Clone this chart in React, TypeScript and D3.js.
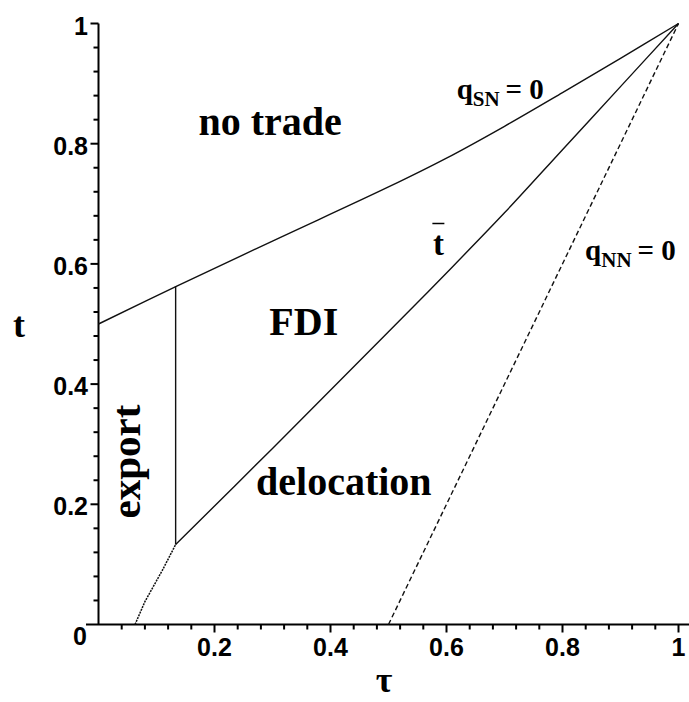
import React from "react";
import * as d3 from "d3";

// curve qSN = 0 (upper boundary of no trade)
const qsnTau = [0, 0.135, 0.3, 0.5, 0.6, 0.7, 0.8, 0.9, 1];
const qsnT = [0.5, 0.563, 0.638, 0.728, 0.776, 0.829, 0.885, 0.942, 1];

// t-bar line above the kink
const tbarTau = [0.133, 0.3, 0.5, 0.6, 0.7, 0.8, 0.9, 1];
const tbarT = [0.133, 0.293, 0.487, 0.585, 0.685, 0.79, 0.895, 1];

// lower part below the kink
const lowTau = [0.063, 0.08, 0.11, 0.133];
const lowT = [0, 0.038, 0.09, 0.133];

// dashed qNN = 0
const qnnTau = [0.5, 0.75, 1];
const qnnT = [0, 0.5, 1];

// export / FDI boundary
const vertTau = [0.133, 0.133];
const vertT = [0.133, 0.563];

const majorTicks = [0.2, 0.4, 0.6, 0.8, 1];
const majorLabels = ["0.2", "0.4", "0.6", "0.8", "1"];

const W = 689;
const H = 702;

const x = d3.scaleLinear().domain([0, 1]).range([98.5, 678.5]);
const y = d3.scaleLinear().domain([0, 1]).range([624.5, 23.5]);

const zip = (a: number[], b: number[]) => a.map((v, i) => [v, b[i]] as [number, number]);

const line = d3
  .line<[number, number]>()
  .x((d) => x(d[0]))
  .y((d) => y(d[1]))
  .curve(d3.curveCatmullRom.alpha(0.5));

const straight = d3
  .line<[number, number]>()
  .x((d) => x(d[0]))
  .y((d) => y(d[1]));

export default function App() {
  const minor = d3.range(0, 1.0001, 0.04).filter((v) => Math.abs((v * 5) % 1) > 0.01 && Math.abs((v * 5) % 1) < 0.99);
  const tickFont = { fontFamily: "'Liberation Sans', Arial, sans-serif", fontWeight: 700, fontSize: 25 };
  const serif = { fontFamily: "'Liberation Serif', 'Times New Roman', serif", fontWeight: 700 };

  return (
    <svg width={W} height={H} style={{ position: "absolute", left: 0, top: 0, background: "#fff" }}>
      {/* axes */}
      <line x1={86} x2={W} y1={y(0)} y2={y(0)} stroke="#000" strokeWidth={2} />
      <line x1={x(0)} x2={x(0)} y1={y(1)} y2={y(0)} stroke="#000" strokeWidth={2} />

      {majorTicks.map((v) => (
        <g key={"mx" + v}>
          <line x1={x(v)} x2={x(v)} y1={y(0)} y2={y(0) + 8} stroke="#000" strokeWidth={2} />
          <line x1={x(0) - 8} x2={x(0)} y1={y(v)} y2={y(v)} stroke="#000" strokeWidth={2} />
        </g>
      ))}
      {minor.map((v) => (
        <g key={"mn" + v}>
          <line x1={x(v)} x2={x(v)} y1={y(0)} y2={y(0) + 5} stroke="#000" strokeWidth={2} />
          <line x1={x(0) - 5} x2={x(0)} y1={y(v)} y2={y(v)} stroke="#000" strokeWidth={2} />
        </g>
      ))}

      {majorTicks.map((v, i) => (
        <text key={"lx" + v} x={x(v)} y={656} textAnchor="middle" style={tickFont}>
          {majorLabels[i]}
        </text>
      ))}
      {majorTicks.map((v, i) => (
        <text key={"ly" + v} x={88} y={y(v) + 11} textAnchor="end" style={tickFont}>
          {majorLabels[i]}
        </text>
      ))}
      <text x={80} y={645} textAnchor="middle" style={tickFont}>
        0
      </text>

      {/* axis titles */}
      <text x={19} y={337} textAnchor="middle" style={{ ...serif, fontSize: 36 }}>
        t
      </text>
      <text x={384} y={692} textAnchor="middle" style={{ ...serif, fontSize: 36 }}>
        τ
      </text>

      {/* curves */}
      <path d={line(zip(qsnTau, qsnT)) || ""} fill="none" stroke="#111" strokeWidth={1.4} />
      <path d={line(zip(tbarTau, tbarT)) || ""} fill="none" stroke="#111" strokeWidth={1.4} />
      <path d={straight(zip(lowTau, lowT)) || ""} fill="none" stroke="#111" strokeWidth={1.5} strokeDasharray="2 1" />
      <path d={straight(zip(qnnTau, qnnT)) || ""} fill="none" stroke="#111" strokeWidth={1.4} strokeDasharray="5 3" />
      <path d={straight(zip(vertTau, vertT)) || ""} fill="none" stroke="#111" strokeWidth={1.4} />

      {/* region labels */}
      <text x={x(0.296)} y={y(0.8145)} textAnchor="middle" style={{ ...serif, fontSize: 40 }}>
        no trade
      </text>
      <text x={x(0.354)} y={y(0.482)} textAnchor="middle" style={{ ...serif, fontSize: 40 }}>
        FDI
      </text>
      <text x={x(0.423)} y={y(0.2155)} textAnchor="middle" style={{ ...serif, fontSize: 40 }}>
        delocation
      </text>
      <text
        transform={`translate(${x(0.0716)},${y(0.271)}) rotate(-90)`}
        textAnchor="middle"
        style={{ ...serif, fontSize: 41 }}
      >
        export
      </text>

      {/* curve labels */}
      <text x={x(0.6176)} y={y(0.874)} style={{ ...serif, fontSize: 29 }}>
        q
        <tspan fontSize={21} dy={7}>SN</tspan>
        <tspan dy={-7}>{"\u2009= 0"}</tspan>
      </text>
      <text x={x(0.839)} y={y(0.6065)} style={{ ...serif, fontSize: 29 }}>
        q
        <tspan fontSize={21} dy={7}>NN</tspan>
        <tspan dy={-7}>{"\u2009= 0"}</tspan>
      </text>
      <text x={x(0.586)} y={y(0.615)} textAnchor="middle" style={{ ...serif, fontSize: 33 }}>
        t
      </text>
      <line x1={x(0.586) - 6} x2={x(0.586) + 6} y1={223.5} y2={223.5} stroke="#000" strokeWidth={1.5} />
    </svg>
  );
}
